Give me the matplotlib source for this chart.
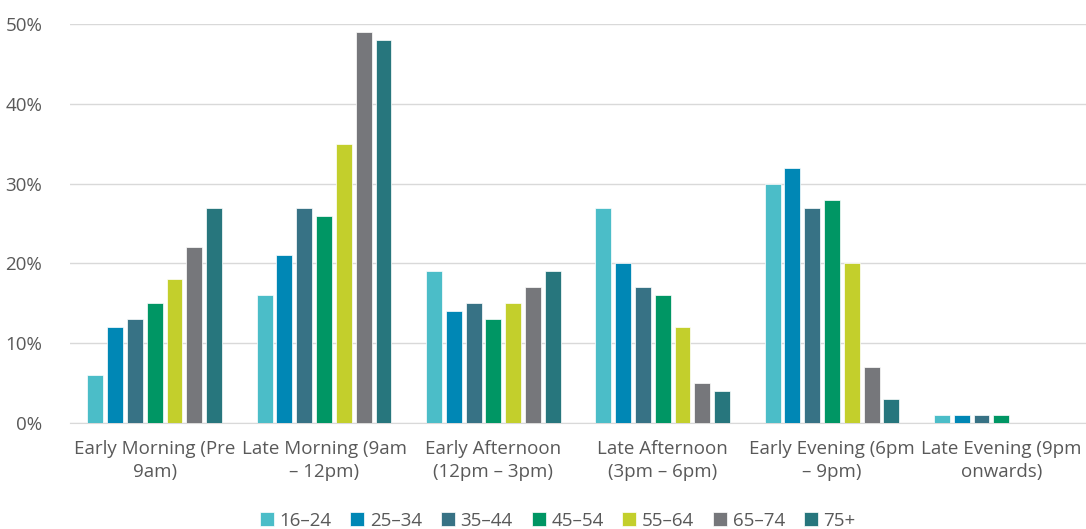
import numpy as np
import matplotlib
matplotlib.use("Agg")
import matplotlib.pyplot as plt

plt.rcParams['font.family'] = ['Open Sans', 'DejaVu Sans']

periods = ["Early Morning (Pre\n9am)", "Late Morning (9am\n– 12pm)",
           "Early Afternoon\n(12pm – 3pm)", "Late Afternoon\n(3pm – 6pm)",
           "Early Evening (6pm\n– 9pm)", "Late Evening (9pm\nonwards)"]
age_groups = ["16–24", "25–34", "35–44", "45–54", "55–64", "65–74", "75+"]

age_16_24 = [6, 16, 19, 27, 30, 1]
age_25_34 = [12, 21, 14, 20, 32, 1]
age_35_44 = [13, 27, 15, 17, 27, 1]
age_45_54 = [15, 26, 13, 16, 28, 1]
age_55_64 = [18, 35, 15, 12, 20, 0]
age_65_74 = [22, 49, 17, 5, 7, 0]
age_75_plus = [27, 48, 19, 4, 3, 0]

series = [age_16_24, age_25_34, age_35_44, age_45_54, age_55_64, age_65_74, age_75_plus]
colors = ["#4BBDC8", "#0087B5", "#377285", "#009664", "#C3CF2C", "#76777B", "#27767D"]

fig = plt.figure(figsize=(10.86, 5.29), dpi=100)
ax = fig.add_axes([0.0645, 0.2004, 0.9355, 0.7542])

x = np.arange(len(periods))
pitch = 0.117
width = 0.094
for i, (vals, col, lab) in enumerate(zip(series, colors, age_groups)):
    ax.bar(x + (i - 3) * pitch, vals, width, color=col, label=lab,
           edgecolor="white", linewidth=0.5, zorder=3)

ax.set_xlim(-0.5, len(periods) - 0.5)
ax.set_ylim(0, 50)
ax.set_yticks(range(0, 51, 10))
ax.set_yticklabels([f"{v}%" for v in range(0, 51, 10)])
ax.set_xticks(x)
ax.set_xticklabels(periods, linespacing=1.4)

ax.grid(axis="y", color="#D9D9D9", linewidth=1, zorder=0)
for s in ["top", "right", "left"]:
    ax.spines[s].set_visible(False)
ax.spines["bottom"].set_color("#D9D9D9")
ax.tick_params(axis="both", length=0, labelsize=13.5, colors="#595959")
ax.tick_params(axis="x", pad=12)
ax.tick_params(axis="y", pad=20)

ax.legend(loc="lower center", bbox_to_anchor=(0.48, -0.31), ncol=7,
          frameon=False, fontsize=13.5, handlelength=0.75, handleheight=0.75,
          handletextpad=0.3, columnspacing=1.0, labelcolor="#595959")

fig.savefig("out.png", dpi=100)
